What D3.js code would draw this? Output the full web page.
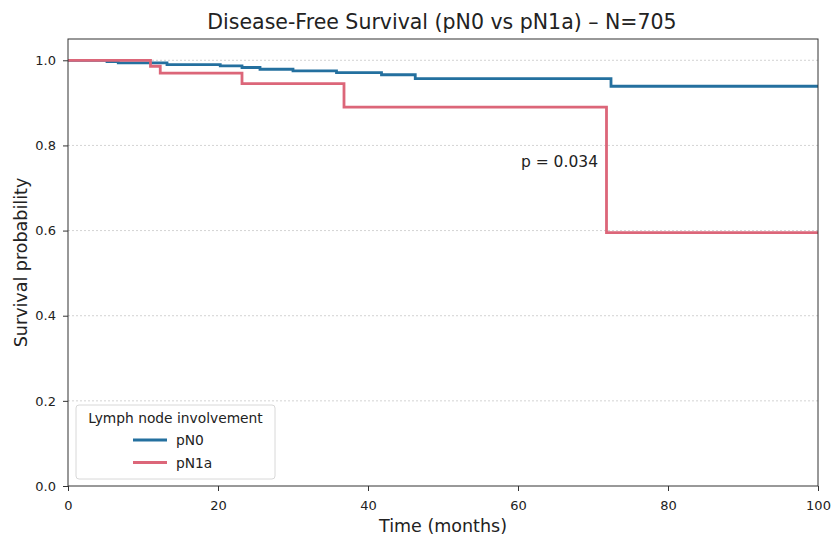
<!DOCTYPE html>
<html>
<head>
<meta charset="utf-8">
<script src="https://d3js.org/d3.v7.min.js"></script>
<style>
  body { margin: 0; background: #fff; }
  text { font-family: "DejaVu Sans", sans-serif; fill: #222; }
</style>
</head>
<body>
<svg id="chart" width="832" height="537"></svg>
<script>
// step times (months) and survival after each step
const pn0Times = [0, 5.2, 6.7, 13.2, 20.3, 23.2, 25.6, 30, 35.8, 41.8, 46.3, 72.4, 100];
const pn0Surv  = [1.0, 0.997, 0.994, 0.990, 0.987, 0.983, 0.979, 0.975, 0.971, 0.966, 0.957, 0.939, 0.939];
const pn1aTimes = [0, 11, 12.3, 23.2, 36.8, 71.8, 100];
const pn1aSurv  = [1.0, 0.986, 0.970, 0.945, 0.890, 0.595, 0.595];
const xTicks = [0, 20, 40, 60, 80, 100];
const yTicks = [0.0, 0.2, 0.4, 0.6, 0.8, 1.0];

const series = [
  { name: "pN0", color: "#24709f", pts: d3.zip(pn0Times, pn0Surv) },
  { name: "pN1a", color: "#dc6679", pts: d3.zip(pn1aTimes, pn1aSurv) }
];

const pLeft = 68, pRight = 818, pTop = 39, pBottom = 486;
const svg = d3.select("#chart");

const x = d3.scaleLinear().domain([0, 100]).range([pLeft, pRight]);
const y = d3.scaleLinear().domain([0, 1.05]).range([pBottom, pTop]);

// grid
svg.append("g")
  .selectAll("line")
  .data(yTicks.slice(1))
  .enter().append("line")
  .attr("x1", pLeft).attr("x2", pRight)
  .attr("y1", d => y(d)).attr("y2", d => y(d))
  .attr("stroke", "#c8c8c8")
  .attr("stroke-width", 0.8)
  .attr("stroke-dasharray", "2,2");

// curves
const line = d3.line()
  .x(d => x(d[0]))
  .y(d => y(d[1]))
  .curve(d3.curveStepAfter);

series.forEach(s => {
  svg.append("path")
    .datum(s.pts)
    .attr("fill", "none")
    .attr("stroke", s.color)
    .attr("stroke-width", 2.8)
    .attr("d", line);
});

// axes
const xAxis = svg.append("g")
  .attr("transform", "translate(0," + pBottom + ")")
  .call(d3.axisBottom(x).tickValues(xTicks).tickFormat(d3.format("d"))
    .tickSizeOuter(0).tickSize(5).tickPadding(5));
const yAxis = svg.append("g")
  .attr("transform", "translate(" + pLeft + ",0)")
  .call(d3.axisLeft(y).tickValues(yTicks).tickFormat(d3.format(".1f"))
    .tickSizeOuter(0).tickSize(5).tickPadding(7));
[xAxis, yAxis].forEach(a => {
  a.selectAll("text").attr("font-size", 13).attr("fill", "#222");
  a.selectAll("line").attr("stroke", "#333");
  a.select(".domain").remove();
});
xAxis.selectAll("text").attr("dy", "1.05em");

// frame
svg.append("rect")
  .attr("x", pLeft).attr("y", pTop)
  .attr("width", pRight - pLeft).attr("height", pBottom - pTop)
  .attr("fill", "none")
  .attr("stroke", "#333")
  .attr("stroke-width", 1);

// titles
svg.append("text")
  .attr("x", (pLeft + pRight) / 2 - 1).attr("y", 29)
  .attr("text-anchor", "middle")
  .attr("font-size", 20.5)
  .text("Disease-Free Survival (pN0 vs pN1a) \u2013 N=705");
svg.append("text")
  .attr("x", (pLeft + pRight) / 2).attr("y", 532)
  .attr("text-anchor", "middle")
  .attr("font-size", 17.5)
  .text("Time (months)");
svg.append("text")
  .attr("transform", "translate(27," + (pTop + pBottom) / 2 + ") rotate(-90)")
  .attr("text-anchor", "middle")
  .attr("font-size", 17.5)
  .text("Survival probability");

// p value
svg.append("text")
  .attr("x", 598).attr("y", 167)
  .attr("text-anchor", "end")
  .attr("font-size", 15.5)
  .text("p = 0.034");

// legend
const lg = svg.append("g").attr("transform", "translate(76,405)");
lg.append("rect")
  .attr("width", 199).attr("height", 74).attr("rx", 3)
  .attr("fill", "#fff").attr("fill-opacity", 0.85)
  .attr("stroke", "#d8d8d8");
lg.append("text")
  .attr("x", 99.5).attr("y", 18)
  .attr("text-anchor", "middle")
  .attr("font-size", 13.8)
  .text("Lymph node involvement");
series.forEach((s, i) => {
  const yy = 35 + i * 22.5;
  lg.append("line")
    .attr("x1", 57).attr("x2", 91)
    .attr("y1", yy).attr("y2", yy)
    .attr("stroke", s.color).attr("stroke-width", 2.8);
  lg.append("text")
    .attr("x", 100).attr("y", yy + 5)
    .attr("font-size", 13.8)
    .text(s.name);
});
</script>
</body>
</html>
